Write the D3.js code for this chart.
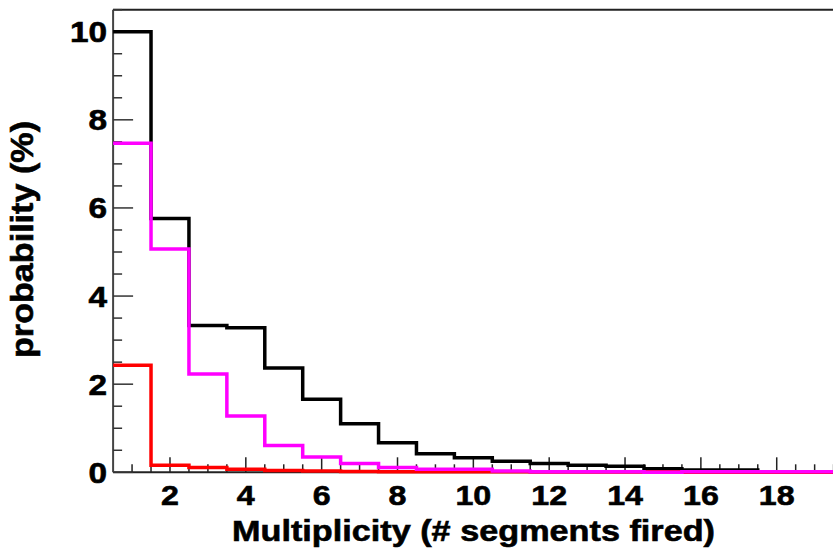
<!DOCTYPE html>
<html>
<head>
<meta charset="utf-8">
<script src="https://cdn.jsdelivr.net/npm/d3@7"></script>
<style>
  body { margin: 0; background: #fff; }
  text { font-family: "Liberation Sans", Arial, sans-serif; font-weight: bold; fill: #000; }
  .tl { stroke: #000; stroke-width: 0.6; }
</style>
</head>
<body>
<div id="chart"></div>
<script>
// bin centres 1..19, bin width 1
var bins = d3.range(1, 20);
var blackVals = [10.0, 5.76, 3.33, 3.28, 2.37, 1.66, 1.10, 0.67, 0.42, 0.33, 0.25, 0.20, 0.16, 0.14, 0.08, 0.05, 0.05, 0.01, 0.01];
var magentaVals = [7.47, 5.07, 2.23, 1.28, 0.61, 0.35, 0.20, 0.11, 0.07, 0.07, 0.03, 0.01, 0.01, 0.01, 0.0, 0.01, 0.01, 0.01, 0.01];
var redVals = [2.43, 0.16, 0.11, 0.07, 0.04, 0.03, 0.02, 0.01, 0.01, 0.01, 0.01, 0.005, 0.005, 0.005, 0.01, 0.0, 0.0, 0.0, 0.0];
var xTicks = [2, 4, 6, 8, 10, 12, 14, 16, 18];
var yTicks = [0, 2, 4, 6, 8, 10];

var W = 833, H = 548;
var svg = d3.select("#chart").append("svg")
    .attr("width", W).attr("height", H);

var x = d3.scaleLinear().domain([0.5, 19.5]).range([113.1, 833.6]);
var y = d3.scaleLinear().domain([0, 10]).range([472.3, 31.7]);
var yTop = y(10.5);

// frame top line
svg.append("line")
    .attr("x1", x(0.5)).attr("x2", W)
    .attr("y1", yTop).attr("y2", yTop)
    .attr("stroke", "#222").attr("stroke-width", 2);

// axes lines
svg.append("line")
    .attr("x1", x(0.5)).attr("x2", W)
    .attr("y1", y(0)).attr("y2", y(0))
    .attr("stroke", "#222").attr("stroke-width", 2);
svg.append("line")
    .attr("x1", x(0.5)).attr("x2", x(0.5))
    .attr("y1", y(0)).attr("y2", yTop)
    .attr("stroke", "#444").attr("stroke-width", 2);

// x ticks (inward), minor every 0.5, major every 2
var xMinor = d3.range(1, 19.51, 0.5);
svg.append("g").selectAll("line").data(xMinor).enter().append("line")
    .attr("x1", function(d){ return x(d); })
    .attr("x2", function(d){ return x(d); })
    .attr("y1", y(0))
    .attr("y2", function(d){ return y(0) - (d % 2 === 0 ? 15 : 8); })
    .attr("stroke", "#222").attr("stroke-width", 1.5);

// y ticks (inward)
var yMinor = d3.range(0, 10.51, 0.5);
svg.append("g").selectAll("line").data(yMinor).enter().append("line")
    .attr("x1", x(0.5))
    .attr("x2", function(d){ return x(0.5) + (d % 2 === 0 ? 20 : 9); })
    .attr("y1", function(d){ return y(d); })
    .attr("y2", function(d){ return y(d); })
    .attr("stroke", "#333").attr("stroke-width", 1.5);

// tick labels
svg.append("g").selectAll("text").data(xTicks).enter().append("text")
    .attr("class", "tl")
    .attr("transform", function(d){ return "translate(" + x(d) + ",505) scale(1.15,1)"; })
    .attr("text-anchor", "middle")
    .attr("font-size", 28)
    .text(function(d){ return d; });

svg.append("g").selectAll("text").data(yTicks).enter().append("text")
    .attr("class", "tl")
    .attr("transform", function(d){ return "translate(107," + y(d) + ") scale(1.15,1)"; })
    .attr("text-anchor", "end")
    .attr("dy", "0.36em")
    .attr("font-size", 29)
    .text(function(d){ return d; });

// axis titles
svg.append("text")
    .attr("class", "tl")
    .attr("x", 473.5).attr("y", 541)
    .attr("text-anchor", "middle")
    .attr("font-size", 30)
    .attr("textLength", 483)
    .attr("lengthAdjust", "spacingAndGlyphs")
    .text("Multiplicity (# segments fired)");

svg.append("text")
    .attr("class", "tl")
    .attr("transform", "translate(33,239.5) rotate(-90)")
    .attr("text-anchor", "middle")
    .attr("font-size", 32)
    .attr("textLength", 237)
    .attr("lengthAdjust", "spacingAndGlyphs")
    .text("probability (%)");

// histograms as step outlines
function stepPoints(vals) {
    var pts = [];
    bins.forEach(function(b, i) {
        pts.push([b - 0.5, vals[i]]);
        pts.push([b + 0.5, vals[i]]);
    });
    return pts;
}
var line = d3.line()
    .x(function(d){ return x(d[0]); })
    .y(function(d){ return y(d[1]); });

// red under magenta so the magenta tail shows along the axis
var series = [
    {vals: blackVals, color: "#000000"},
    {vals: redVals, color: "#ff0000"},
    {vals: magentaVals, color: "#ff00ff"}
];
svg.append("g").selectAll("path").data(series).enter().append("path")
    .attr("d", function(d){ return line(stepPoints(d.vals)); })
    .attr("fill", "none")
    .attr("stroke", function(d){ return d.color; })
    .attr("stroke-width", 3.5)
    .attr("stroke-linejoin", "miter");
</script>
</body>
</html>
